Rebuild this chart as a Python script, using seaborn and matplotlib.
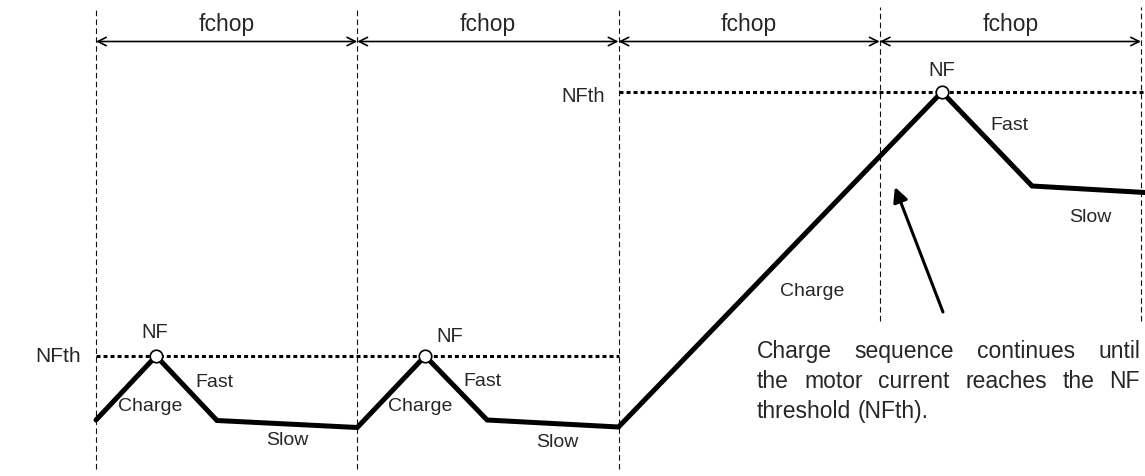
import numpy as np
import pandas as pd
import matplotlib
matplotlib.use("Agg")
import matplotlib.pyplot as plt
import seaborn as sns

# time in chopping periods, current in arbitrary units
chop_edges = [0, 1, 2, 3, 4]
wave_t = [0.0, 0.23, 0.463, 1.0, 1.26, 1.497, 2.0, 3.238, 3.583, 4.015]
wave_i = [56, 120, 55.5, 48.5, 120, 56, 49, 384, 290, 283.5]
peak_idx = [1, 4, 7]

nfth_low = 120
nfth_high = 384

phase_labels = ["Charge", "Fast", "Slow"] * 3
phase_t = [0.207, 0.455, 0.731, 1.240, 1.481, 1.765, 2.741, 3.498, 3.805]
phase_i = [70, 94, 36, 70, 95, 34, 185, 351, 259]

nf_t = [0.226, 1.355, 3.238]
nf_i = [145, 140, 407]

note_lines = ["Charge sequence continues until",
              "the motor current reaches the NF",
              "threshold (NFth)."]

sns.set_theme(style="white")
plt.rcParams["font.family"] = ["Liberation Sans", "DejaVu Sans"]

fig = plt.figure(figsize=(11.45, 4.77), dpi=100)
ax = fig.add_axes([0, 0, 1, 1])
ax.set_xlim(-0.3675, 4.0153)
ax.set_ylim(0, 477)
ax.axis("off")

# chopping period boundaries
ax.vlines(chop_edges[:3], 7, 469, color="#111111", lw=0.8, linestyles=(0, (5, 3)))
ax.vlines(chop_edges[3:], 155, 469, color="#111111", lw=0.8, linestyles=(0, (5, 3)))

# fchop arrows
for a, b in zip(chop_edges[:-1], chop_edges[1:]):
    ax.annotate("", xy=(b, 434.5), xytext=(a, 434.5),
                arrowprops=dict(arrowstyle="<->", lw=1.2, color="black",
                                shrinkA=0, shrinkB=0, mutation_scale=15))
    ax.text((a + b) / 2, 453, "fchop", ha="center", va="center", fontsize=16.5)

# NF threshold levels
ax.plot([0, 2], [nfth_low, nfth_low], color="black", lw=2.2,
        linestyle=(0, (1.3, 1)), dash_capstyle="butt")
ax.plot([2, 4.0153], [nfth_high, nfth_high], color="black", lw=2.2,
        linestyle=(0, (1.3, 1)), dash_capstyle="butt")
ax.text(-0.145, nfth_low, "NFth", ha="center", va="center", fontsize=15)
ax.text(1.864, 380, "NFth", ha="center", va="center", fontsize=14.5)

# current waveform
df = pd.DataFrame({"t": wave_t, "i": wave_i})
sns.lineplot(data=df, x="t", y="i", sort=False, color="black", lw=3.6, ax=ax)
ax.lines[-1].set_solid_joinstyle("miter")
ax.plot(np.array(wave_t)[peak_idx], np.array(wave_i)[peak_idx], "o",
        ms=9, mfc="white", mec="black", mew=1.2, zorder=5)

for lab, x, y in zip(phase_labels, phase_t, phase_i):
    ax.text(x, y, lab, ha="center", va="center", fontsize=14)
for x, y in zip(nf_t, nf_i):
    ax.text(x, y, "NF", ha="center", va="center", fontsize=14.5)

# explanatory arrow
ax.annotate("", xy=(3.058, 289), xytext=(3.242, 164),
            arrowprops=dict(arrowstyle="-|>", lw=2.2, color="black",
                            shrinkA=0, shrinkB=0, mutation_scale=22))

# justified note text
left, right = 2.530, 3.996
line_y = [125, 95, 65]
note_size = 16.5
fig.canvas.draw()
renderer = fig.canvas.get_renderer()
inv = ax.transData.inverted()
for k, (line, y) in enumerate(zip(note_lines, line_y)):
    words = line.split()
    objs = [ax.text(left, y, w, ha="left", va="center", fontsize=note_size) for w in words]
    widths = []
    for o in objs:
        bb = o.get_window_extent(renderer)
        x0 = inv.transform((bb.x0, 0))[0]
        x1 = inv.transform((bb.x1, 0))[0]
        widths.append(x1 - x0)
    if k < len(note_lines) - 1:
        gap = (right - left - sum(widths)) / (len(words) - 1)
    else:
        space = ax.text(0, 0, "a a", fontsize=note_size)
        bb1 = space.get_window_extent(renderer)
        space.set_text("aa")
        bb2 = space.get_window_extent(renderer)
        gap = inv.transform((bb1.width - bb2.width, 0))[0] - inv.transform((0, 0))[0]
        space.remove()
    x = left
    for o, w in zip(objs, widths):
        o.set_x(x)
        x += w + gap

fig.savefig("out.png", dpi=100, facecolor="white")
